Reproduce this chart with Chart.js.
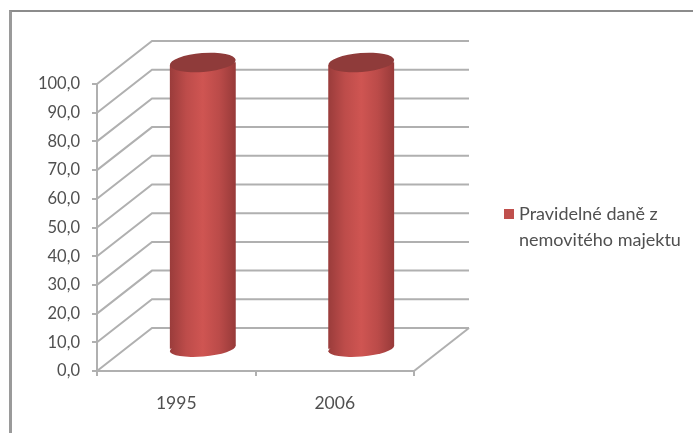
<!DOCTYPE html>
<html>
<head>
<meta charset="utf-8">
<style>
  html, body { margin: 0; background: #fff; overflow: hidden; }
  #frame { position: absolute; left: 9px; top: 10px; width: 684px; height: 423px;
           border-left: 3px solid #9a9a9a; border-top: 2px solid #8c8c8c; box-sizing: border-box; }
  canvas { position: absolute; left: 0; top: 0; filter: blur(0.75px); }
</style>
<script src="https://cdn.jsdelivr.net/npm/chart.js@4"></script>
</head>
<body>
<canvas id="myChart" width="693" height="433"></canvas>
<div id="frame"></div>
<script>
const categories = ['1995', '2006'];
const taxValues = [100, 100];
const seriesName = 'Pravidelné daně z nemovitého majektu';
const legendLines = ['Pravidelné daně z', 'nemovitého majektu'];

// hloubka 3D efektu
const depthX = 55;
const depthY = 43;
const barShiftX = 26.5;
const tilt = -0.08;
const gridColor = '#b0b0b0';
const textColor = '#505050';
const fontFamily = 'Lato, "Open Sans", sans-serif';

function bodyGradient(ctx, x, half) {
    if (!Number.isFinite(x)) return '#c0504d';
    const g = ctx.createLinearGradient(x - half, 0, x + half, 0);
    g.addColorStop(0, '#9a3c3b');
    g.addColorStop(0.25, '#bd4c4a');
    g.addColorStop(0.5, '#cf5552');
    g.addColorStop(0.75, '#bb4b49');
    g.addColorStop(1, '#973a39');
    return g;
}

function drawEllipse(ctx, x, y, rx, ry, fill) {
    ctx.beginPath();
    ctx.ellipse(x, y, rx, ry, tilt, 0, Math.PI * 2);
    ctx.fillStyle = fill;
    ctx.fill();
}

const walls3d = {
    id: 'walls3d',
    beforeDatasetsDraw(chart) {
        const { ctx, scales: { x, y } } = chart;
        const left = x.left, right = x.right;
        ctx.save();
        ctx.strokeStyle = gridColor;
        ctx.lineWidth = 2;
        y.ticks.forEach(t => {
            const py = y.getPixelForValue(t.value);
            ctx.beginPath();
            ctx.moveTo(left, py);
            ctx.lineTo(left + depthX, py - depthY);
            ctx.lineTo(right + depthX, py - depthY);
            ctx.stroke();
        });
        // podlaha
        const floor = y.getPixelForValue(0);
        ctx.beginPath();
        ctx.moveTo(right, floor);
        ctx.lineTo(right + depthX, floor - depthY);
        ctx.stroke();
        ctx.restore();

        // spodek valce, pak posun pro sloupce
        ctx.save();
        ctx.translate(barShiftX, -depthY / 2);
        const bars = chart.getDatasetMeta(0).data;
        bars.forEach(bar => {
            drawEllipse(ctx, bar.x, bar.base, bar.width / 2, 8, bodyGradient(ctx, bar.x, bar.width / 2));
        });

        // orez rohu sloupcu podle sklonu elips
        ctx.save();
        ctx.beginPath();
        bars.forEach(bar => {
            const half = bar.width / 2;
            const dy = half * Math.sin(-tilt);
            ctx.moveTo(bar.x - half, bar.y + dy);
            ctx.lineTo(bar.x + half, bar.y - dy);
            ctx.lineTo(bar.x + half, bar.base - dy);
            ctx.lineTo(bar.x - half, bar.base + dy);
            ctx.closePath();
        });
        ctx.clip();
    },
    afterDatasetsDraw(chart) {
        const ctx = chart.ctx;
        ctx.restore();
        chart.getDatasetMeta(0).data.forEach(bar => {
            drawEllipse(ctx, bar.x, bar.y, bar.width / 2, 9.5, '#8f3b3a');
        });
        ctx.restore();

        // legenda
        ctx.save();
        ctx.fillStyle = '#c0504d';
        ctx.fillRect(504, 209, 10, 10);
        ctx.fillStyle = textColor;
        ctx.font = '18px ' + fontFamily;
        ctx.textBaseline = 'middle';
        legendLines.forEach((line, i) => ctx.fillText(line, 519, 214 + i * 26));
        ctx.restore();
    }
};

new Chart(document.getElementById('myChart'), {
    type: 'bar',
    data: {
        labels: categories,
        datasets: [{
            label: seriesName,
            data: taxValues,
            barThickness: 66,
            clip: false,
            backgroundColor: c => bodyGradient(c.chart.ctx, c.chart.scales.x.getPixelForValue(c.dataIndex), 33)
        }]
    },
    options: {
        responsive: false,
        animation: false,
        layout: { padding: { top: 84, right: 279 } },
        plugins: { legend: { display: false }, tooltip: { enabled: false } },
        scales: {
            x: {
                afterFit: s => { s.height = 62; },
                grid: { offset: true, drawOnChartArea: false, tickLength: 5, color: gridColor, lineWidth: 2 },
                border: { color: gridColor, width: 2 },
                ticks: { color: textColor, padding: 17, font: { family: fontFamily, size: 17.5 } }
            },
            y: {
                min: 0,
                max: 100,
                afterFit: s => { s.width = 97; },
                grid: { drawOnChartArea: false, tickLength: 5, color: gridColor, lineWidth: 2 },
                border: { color: gridColor, width: 2 },
                ticks: {
                    stepSize: 10,
                    color: textColor,
                    padding: 12,
                    font: { family: fontFamily, size: 16.5 },
                    callback: v => v.toFixed(1).replace('.', ',')
                }
            }
        }
    },
    plugins: [walls3d]
});
</script>
</body>
</html>
